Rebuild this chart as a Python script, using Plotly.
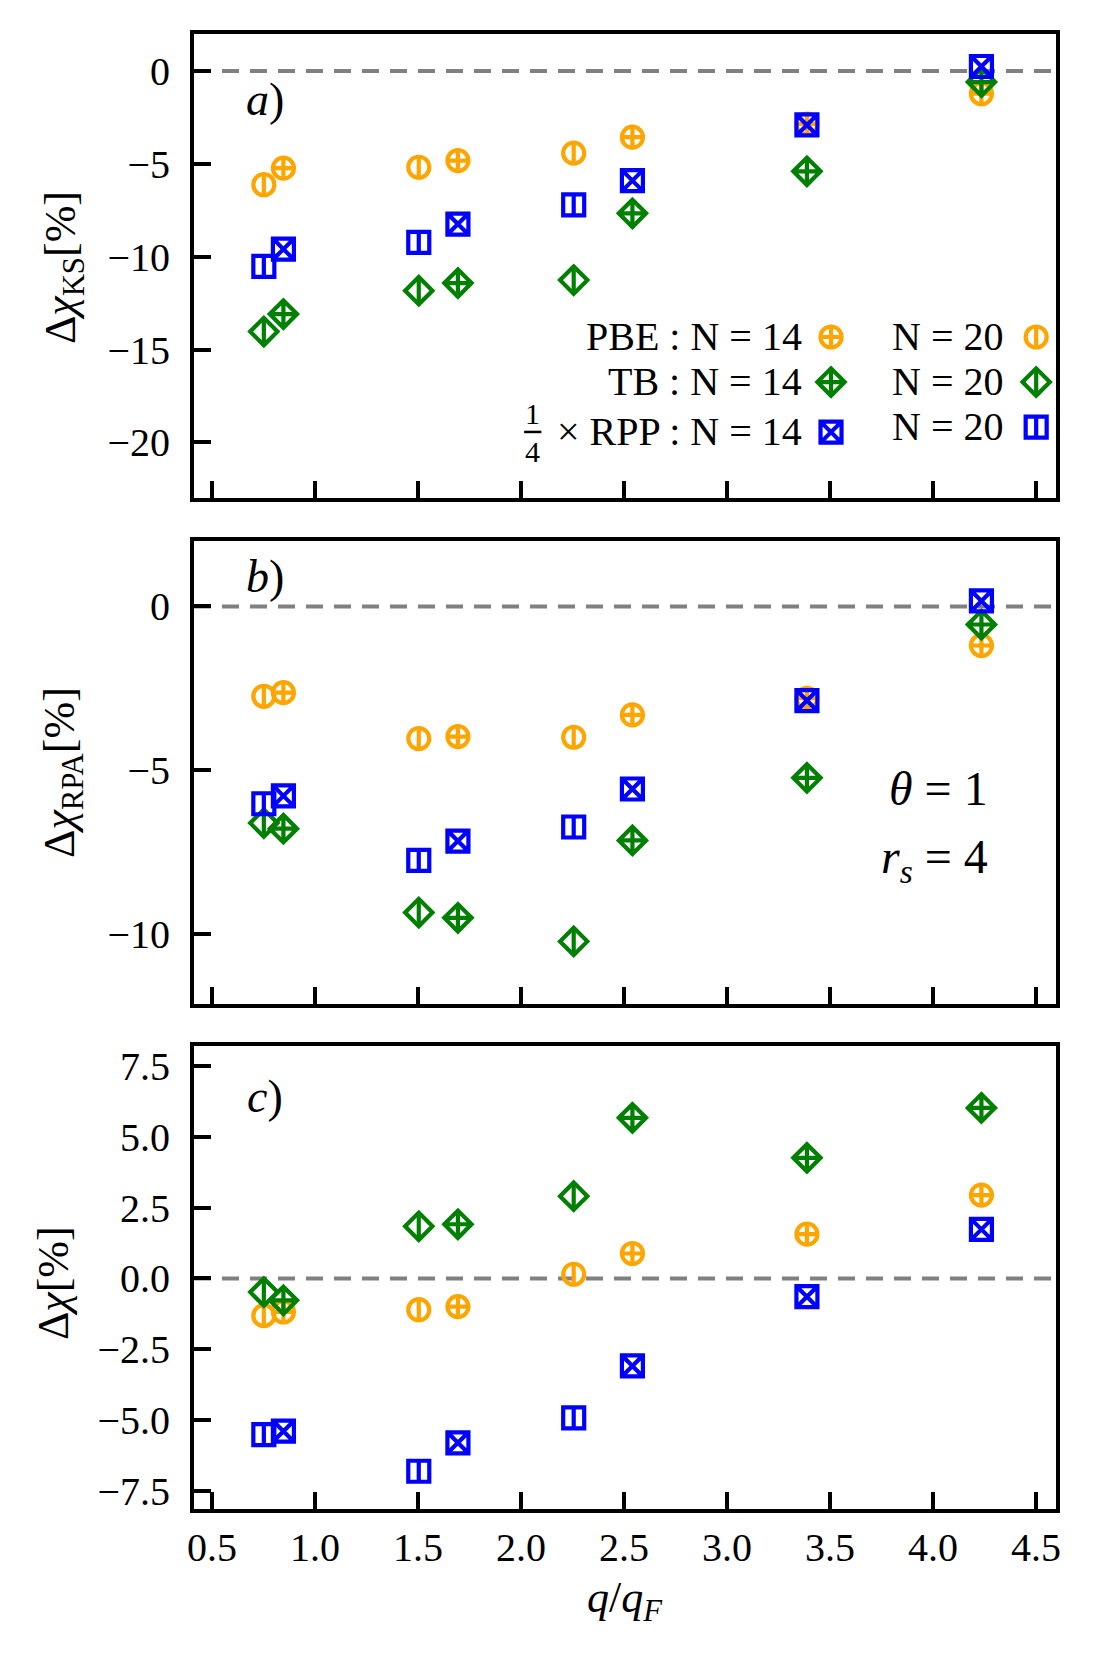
import plotly.graph_objects as go

# q/q_F positions of the two cell sizes
q14 = [0.847, 1.694, 2.541, 3.388, 4.235]
q20 = [0.752, 1.504, 2.256]

# a) Delta chi_KS [%]
ks_pbe14 = [-5.23, -4.82, -3.56, -2.85, -1.22]
ks_pbe20 = [-6.12, -5.18, -4.42]
ks_tb14 = [-13.09, -11.42, -7.66, -5.40, -0.59]
ks_tb20 = [-14.03, -11.83, -11.26]
ks_rpp14 = [-9.59, -8.24, -5.90, -2.90, 0.25]
ks_rpp20 = [-10.52, -9.23, -7.21]

# b) Delta chi_RPA [%]
rpa_pbe14 = [-2.63, -3.97, -3.31, -2.80, -1.19]
rpa_pbe20 = [-2.74, -4.03, -3.99]
rpa_tb14 = [-6.78, -9.50, -7.14, -5.23, -0.55]
rpa_tb20 = [-6.61, -9.34, -10.22]
rpa_rpp14 = [-5.78, -7.16, -5.57, -2.87, 0.17]
rpa_rpp20 = [-6.02, -7.75, -6.73]

# c) Delta chi [%]
chi_pbe14 = [-1.18, -0.99, 0.88, 1.56, 2.94]
chi_pbe20 = [-1.31, -1.10, 0.15]
chi_tb14 = [-0.77, 1.91, 5.66, 4.25, 6.01]
chi_tb20 = [-0.48, 1.84, 2.90]
chi_rpp14 = [-5.38, -5.79, -3.08, -0.64, 1.73]
chi_rpp20 = [-5.50, -6.79, -4.91]

x_ticks = [0.5, 1.0, 1.5, 2.0, 2.5, 3.0, 3.5, 4.0, 4.5]
ticks_a = [0, -5, -10, -15, -20]
ticks_b = [0, -5, -10]
ticks_c = [7.5, 5.0, 2.5, 0.0, -2.5, -5.0, -7.5]

SERIF = "Liberation Serif"
ORANGE = "#ffa500"
GREEN = "#008000"
BLUE = "#0000ff"
MS = 21
LW = 4.2

# marker styles: N=14 symbol, N=20 outline, size of the vertical bar inside N=20
styles = {
    "pbe": (ORANGE, "circle-cross-open", "circle-open", 15.0),
    "tb": (GREEN, "diamond-cross-open", "diamond-open", 19.5),
    "rpp": (BLUE, "square-x-open", "square-open", 15.0),
}

panels = [
    ("x", "y", {"pbe": (ks_pbe14, ks_pbe20), "tb": (ks_tb14, ks_tb20), "rpp": (ks_rpp14, ks_rpp20)}),
    ("x2", "y2", {"pbe": (rpa_pbe14, rpa_pbe20), "tb": (rpa_tb14, rpa_tb20), "rpp": (rpa_rpp14, rpa_rpp20)}),
    ("x3", "y3", {"pbe": (chi_pbe14, chi_pbe20), "tb": (chi_tb14, chi_tb20), "rpp": (chi_rpp14, chi_rpp20)}),
]


def add_points(fig, xs, ys, key, n20, xa, ya):
    color, sym14, sym20, bar = styles[key]
    if n20:
        fig.add_trace(go.Scatter(x=xs, y=ys, mode="markers", xaxis=xa, yaxis=ya, showlegend=False,
                                 marker=dict(symbol=sym20, size=MS, color=color, line=dict(width=LW, color=color))))
        fig.add_trace(go.Scatter(x=xs, y=ys, mode="markers", xaxis=xa, yaxis=ya, showlegend=False,
                                 marker=dict(symbol="line-ns", size=bar, color=color, line=dict(width=LW, color=color))))
    else:
        fig.add_trace(go.Scatter(x=xs, y=ys, mode="markers", xaxis=xa, yaxis=ya, showlegend=False,
                                 marker=dict(symbol=sym14, size=MS, color=color, line=dict(width=LW, color=color))))


fig = go.Figure()
for xa, ya, series in panels:
    for key in ["pbe", "tb", "rpp"]:
        v14, v20 = series[key]
        add_points(fig, q20, v20, key, True, xa, ya)
        add_points(fig, q14, v14, key, False, xa, ya)

# legend keys on a hidden overlay axis of panel a (fractions of the panel)
leg_rows = {"pbe": (0.347, 0.347), "tb": (0.25, 0.25), "rpp": (0.142, 0.153)}
leg_cols = (0.739, 0.977)
for key, (y14, y20) in leg_rows.items():
    add_points(fig, [leg_cols[0]], [y14], key, False, "x4", "y4")
    add_points(fig, [leg_cols[1]], [y20], key, True, "x4", "y4")

axis_common = dict(showline=True, linecolor="black", linewidth=4, mirror=True,
                   ticks="inside", ticklen=17, tickwidth=3.5, tickcolor="black",
                   showgrid=False, zeroline=False, ticklabelstandoff=12,
                   tickfont=dict(family=SERIF, size=40, color="black"))
xr = [0.413, 4.597]
x_common = dict(axis_common, domain=[0, 1], range=xr, tickvals=x_ticks, ticklabelstandoff=0)

# the page body adds an 8px offset, so the margins are shifted to compensate
fig.update_layout(
    width=1113, height=1655,
    margin=dict(l=186, r=65, t=26, b=154),
    paper_bgcolor="white", plot_bgcolor="white",
    showlegend=False,
    xaxis=dict(x_common, anchor="y", showticklabels=False),
    xaxis2=dict(x_common, anchor="y2", showticklabels=False),
    xaxis3=dict(x_common, anchor="y3", tickformat=".1f"),
    yaxis=dict(axis_common, domain=[0.6854, 1], anchor="x", range=[-23, 2], tickvals=ticks_a),
    yaxis2=dict(axis_common, domain=[0.3424, 0.6563], anchor="x2", range=[-12.13, 2], tickvals=ticks_b),
    yaxis3=dict(axis_common, domain=[0, 0.3139], anchor="x3", range=[-8.12, 8.19], tickvals=ticks_c, tickformat=".1f"),
    xaxis4=dict(overlaying="x", anchor="y4", range=[0, 1], visible=False),
    yaxis4=dict(overlaying="y", anchor="x4", range=[0, 1], visible=False),
)

# dashed zero lines
for xa, ya in [("x", "y"), ("x2", "y2"), ("x3", "y3")]:
    fig.add_shape(type="line", xref=xa + " domain", x0=0, x1=1, yref=ya, y0=0, y1=0, layer="below",
                  line=dict(color="#808080", width=4, dash="17px,11px"))


def txt(text, x, y, size, xanchor="center", angle=0):
    fig.add_annotation(text=text, x=x, y=y, xref="paper", yref="paper", showarrow=False,
                       xanchor=xanchor, yanchor="middle", textangle=angle, borderpad=0,
                       font=dict(family=SERIF, size=size, color="black"))


# panel tags
txt("<i>a</i>)", 0.0824, 0.9553, 46)
txt("<i>b</i>)", 0.0824, 0.6319, 46)
txt("<i>c</i>)", 0.0824, 0.2800, 46)

# axis titles
txt("Δ<i>χ</i><sub>KS</sub>[%]", -0.152, 0.842, 44, angle=-90)
txt("Δ<i>χ</i><sub>RPA</sub>[%]", -0.152, 0.4997, 44, angle=-90)
txt("Δ<i>χ</i>[%]", -0.1636, 0.1532, 44, angle=-90)
txt("<i>q</i>/<i>q</i><sub><i>F</i></sub>", 0.5, -0.0617, 44)

# parameters
txt("<i>θ</i> = 1", 0.922, 0.4888, 48, xanchor="right")
txt("<i>r</i><sub><i>s</i></sub> = 4", 0.922, 0.440, 48, xanchor="right")

# legend texts
txt("PBE : N = 14", 0.706, 0.7946, 40, xanchor="right")
txt("TB : N = 14", 0.706, 0.7641, 40, xanchor="right")
txt("× RPP : N = 14", 0.706, 0.7302, 40, xanchor="right")
txt("N = 20", 0.94, 0.7946, 40, xanchor="right")
txt("N = 20", 0.94, 0.7641, 40, xanchor="right")
txt("N = 20", 0.94, 0.7336, 40, xanchor="right")
txt("1", 0.393, 0.7425, 30)
txt("4", 0.393, 0.7168, 30)
fig.add_shape(type="line", xref="paper", yref="paper", x0=0.383, x1=0.403, y0=0.7302, y1=0.7302,
              line=dict(color="black", width=2.5))

fig.write_html("out.html")
